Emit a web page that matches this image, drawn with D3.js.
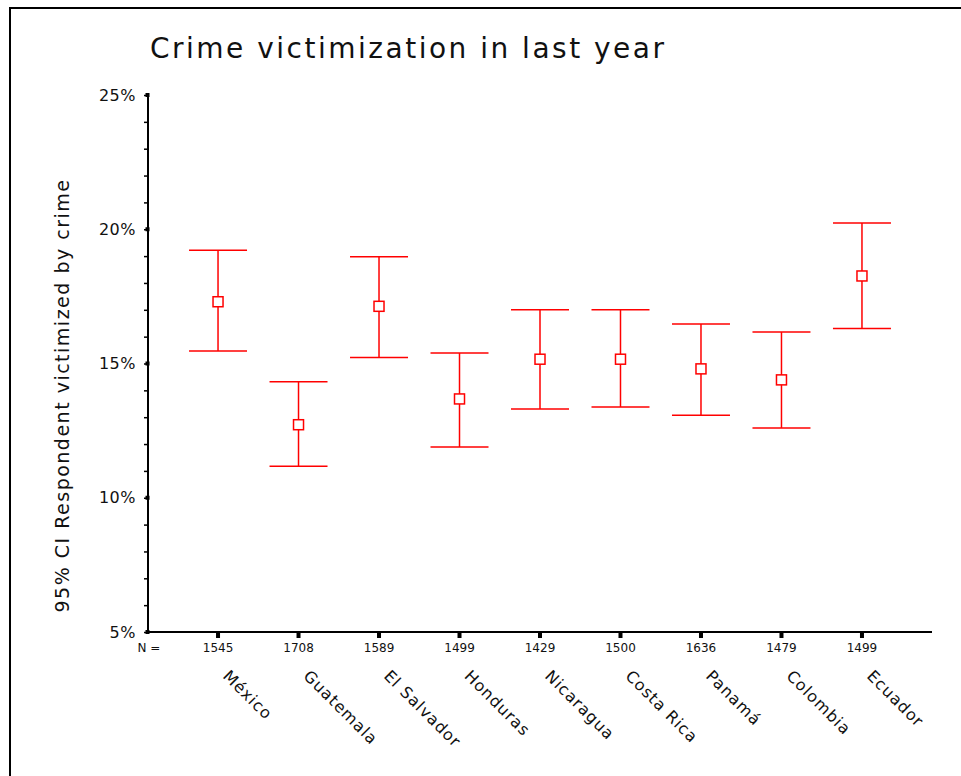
<!DOCTYPE html>
<html>
  <head>
    <meta charset="utf-8">
    <title>Crime victimization in last year</title>
    <script src="https://d3js.org/d3.v7.min.js"></script>
    <style>
      body { margin: 0; background: #fff; }
      text { font-family: "DejaVu Sans", Verdana, sans-serif; fill: #111; }
    </style>
  </head>
  <body>
    <div id="vis"></div>
    <script>
      // data (percent)
      var countries = ["México", "Guatemala", "El Salvador", "Honduras", "Nicaragua", "Costa Rica", "Panamá", "Colombia", "Ecuador"];
      var nValues = [1545, 1708, 1589, 1499, 1429, 1500, 1636, 1479, 1499];
      var means = [17.3, 12.72, 17.13, 13.68, 15.16, 15.16, 14.8, 14.39, 18.26];
      var upper = [19.22, 14.32, 18.98, 15.39, 17.0, 17.0, 16.47, 16.17, 20.23];
      var lower = [15.47, 11.17, 15.22, 11.89, 13.31, 13.38, 13.07, 12.6, 16.3];
      var yTicks = [5, 10, 15, 20, 25];

      var width = 961, height = 776;
      var plotLeft = 148, plotRight = 932, plotTop = 95, plotBottom = 632;
      var red = "#ff0000";

      var svg = d3.select("#vis").append("svg")
                  .attr("width", width)
                  .attr("height", height);

      // frame (only top and left edges show in the window)
      svg.append("rect")
         .attr("x", 10).attr("y", 8)
         .attr("width", 1000).attr("height", 800)
         .attr("fill", "none")
         .attr("stroke", "#000")
         .attr("stroke-width", 2);

      var x = d3.scalePoint().domain(countries).range([plotLeft, plotRight]).padding(0.87);
      var y = d3.scaleLinear().domain([5, 25]).range([plotBottom, plotTop]);

      // title
      svg.append("text")
         .attr("x", 150).attr("y", 58)
         .style("font-size", "28px")
         .style("letter-spacing", "2.5px")
         .text("Crime victimization in last year");

      // y axis title
      svg.append("text")
         .attr("transform", "translate(69," + ((plotTop + plotBottom) / 2 + 32) + ") rotate(-90)")
         .attr("text-anchor", "middle")
         .style("font-size", "19px")
         .style("letter-spacing", "1.5px")
         .text("95% CI Respondent victimized by crime");

      // y axis: minor ticks every 1%, labels on the 5% ones
      var yAxis = d3.axisLeft(y)
                    .ticks(20)
                    .tickSize(4)
                    .tickFormat(function(d) { return d % 5 === 0 ? d + "%" : ""; });
      var gy = svg.append("g")
                  .attr("transform", "translate(" + plotLeft + ",0)")
                  .call(yAxis);
      gy.select(".domain").attr("stroke-width", 2).attr("d", "M0," + plotTop + "V" + plotBottom);
      gy.selectAll(".tick line").attr("stroke-width", 1.5);
      gy.selectAll(".tick text").attr("x", -12).style("font-size", "16px").style("letter-spacing", "0.5px").attr("fill", "#222");
      gy.selectAll(".major").data(yTicks).enter().append("rect")
        .attr("x", -2.5).attr("y", function(d) { return y(d) - 2; })
        .attr("width", 4).attr("height", 4)
        .attr("fill", "#000");

      // x axis line
      svg.append("line")
         .attr("x1", plotLeft).attr("x2", plotRight)
         .attr("y1", plotBottom).attr("y2", plotBottom)
         .attr("stroke", "#000").attr("stroke-width", 2);

      var gx = svg.append("g").selectAll("g.cat")
                  .data(countries).enter().append("g")
                  .attr("transform", function(d) { return "translate(" + x(d) + "," + plotBottom + ")"; });
      gx.append("rect")
        .attr("x", -2).attr("y", 0)
        .attr("width", 4).attr("height", 6)
        .attr("fill", "#000");
      gx.append("text")
        .attr("y", 20)
        .attr("text-anchor", "middle")
        .style("font-size", "12px")
        .attr("fill", "#333")
        .text(function(d, i) { return nValues[i]; });
      gx.append("text")
        .attr("transform", "translate(4,45) rotate(45)")
        .style("font-size", "16px")
        .style("letter-spacing", "1px")
        .text(function(d) { return d; });

      svg.append("text")
         .attr("x", 149).attr("y", plotBottom + 20)
         .attr("text-anchor", "middle")
         .style("font-size", "12px")
         .attr("fill", "#333")
         .text("N =");

      // error bars
      var bars = svg.append("g").selectAll("g.bar")
                    .data(countries).enter().append("g")
                    .attr("stroke", red).attr("stroke-width", 1.5).attr("fill", "none");
      bars.append("line")
          .attr("x1", function(d) { return x(d); })
          .attr("x2", function(d) { return x(d); })
          .attr("y1", function(d, i) { return y(upper[i]); })
          .attr("y2", function(d, i) { return y(lower[i]); });
      bars.append("line")
          .attr("x1", function(d) { return x(d) - 29; })
          .attr("x2", function(d) { return x(d) + 29; })
          .attr("y1", function(d, i) { return y(upper[i]); })
          .attr("y2", function(d, i) { return y(upper[i]); });
      bars.append("line")
          .attr("x1", function(d) { return x(d) - 29; })
          .attr("x2", function(d) { return x(d) + 29; })
          .attr("y1", function(d, i) { return y(lower[i]); })
          .attr("y2", function(d, i) { return y(lower[i]); });
      bars.append("rect")
          .attr("x", function(d) { return x(d) - 5; })
          .attr("y", function(d, i) { return y(means[i]) - 5; })
          .attr("width", 10).attr("height", 10)
          .attr("fill", "#fff");
    </script>
  </body>
</html>
